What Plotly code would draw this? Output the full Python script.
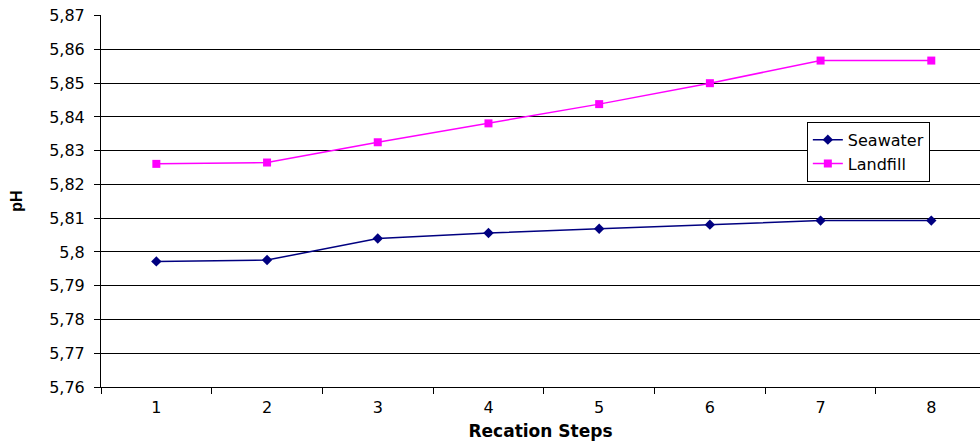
import plotly.graph_objects as go

steps = ["1", "2", "3", "4", "5", "6", "7", "8"]
seawater = [5.7972, 5.7976, 5.8040, 5.8056, 5.8069, 5.8081, 5.8093, 5.8093]
landfill = [5.8261, 5.8265, 5.8325, 5.8381, 5.8438, 5.8500, 5.8567, 5.8567]
y_ticks = [5.76, 5.77, 5.78, 5.79, 5.80, 5.81, 5.82, 5.83, 5.84, 5.85, 5.86, 5.87]
y_labels = ["5,76", "5,77", "5,78", "5,79", "5,8", "5,81", "5,82", "5,83", "5,84", "5,85", "5,86", "5,87"]

font_family = "DejaVu Sans"

fig = go.Figure()
fig.add_trace(go.Scatter(
    x=steps, y=seawater, name="Seawater", mode="lines+markers",
    line=dict(color="#000080", width=1.5),
    marker=dict(symbol="diamond", size=8, color="#000080"),
))
fig.add_trace(go.Scatter(
    x=steps, y=landfill, name="Landfill", mode="lines+markers",
    line=dict(color="#FF00FF", width=1.5),
    marker=dict(symbol="square", size=8, color="#FF00FF"),
))

fig.update_layout(
    width=980, height=443,
    margin=dict(l=101, r=0, t=15, b=56, autoexpand=False),
    paper_bgcolor="white", plot_bgcolor="white",
    font=dict(family=font_family, size=16, color="black"),
    showlegend=True,
    legend=dict(
        x=0.803, y=0.713, xanchor="left", yanchor="top",
        bordercolor="black", borderwidth=1, bgcolor="white",
        font=dict(family=font_family, size=16, color="black"),
        tracegroupgap=0, itemwidth=30,
    ),
    xaxis=dict(
        type="category", range=[-0.5, 7.44],
        showgrid=False, showline=True, linecolor="black", linewidth=1,
        ticks="outside", tickson="boundaries", ticklen=6, tickcolor="black",
        ticklabelstandoff=6,
        tickfont=dict(family=font_family, size=16),
        title=dict(text="<b>Recation Steps</b>", font=dict(family="DejaVu Sans", size=17), standoff=8),
        zeroline=False, automargin=False,
    ),
    yaxis=dict(
        range=[5.76, 5.8702], tickvals=y_ticks, ticktext=y_labels,
        showgrid=True, gridcolor="black", gridwidth=1,
        showline=True, linecolor="black", linewidth=1,
        ticks="outside", ticklen=6, tickcolor="black",
        ticklabelstandoff=6, ticklabeloverflow="allow",
        tickfont=dict(family=font_family, size=16),
        title=dict(text="<b>pH</b>", font=dict(family="Liberation Sans", size=16), standoff=22),
        zeroline=False, automargin=False,
    ),
)

# remove the default page margin so the 980x443 figure fills the window exactly
fig.write_html(
    "out.html",
    config={"displayModeBar": False},
    post_script="document.body.style.margin='0';",
)
